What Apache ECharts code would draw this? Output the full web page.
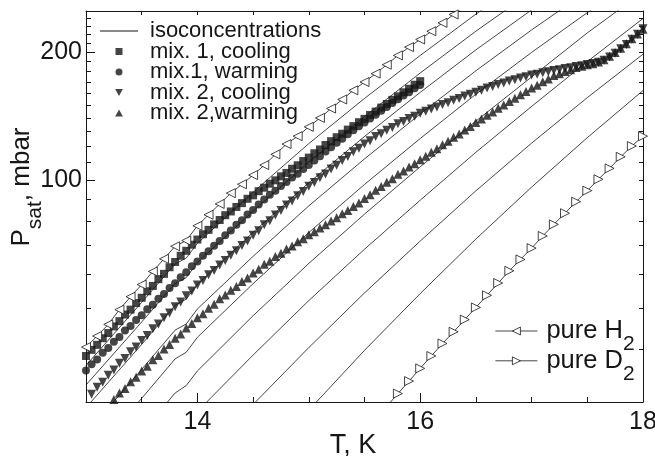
<!DOCTYPE html>
<html>
<head>
<meta charset="utf-8">
<script src="https://cdn.jsdelivr.net/npm/echarts@6/dist/echarts.min.js"></script>
<style>
  html, body { margin: 0; padding: 0; background: #fff; }
  #chart { width: 655px; height: 456px; }
</style>
</head>
<body>
<div id="chart"></div>
<script>
// Saturated vapour pressure of H2/D2 mixtures versus temperature (log pressure axis).

// Axis ticks and labels
const xLabelValues = [14, 16, 18];
const xMajorTicks = [14, 16];
const yLabelValues = [100, 200];
const yMajorTicks = [100, 200];
const yTickValues = [30, 40, 50, 60, 70, 80, 90, 100, 110, 120, 130, 140, 150, 160, 170, 180, 190, 200, 210, 220, 230, 240, 250];

// Pure components, [T (K), P (mbar)]
const h2Pure = [[13.0,40.4],[13.1,42.9],[13.2,45.7],[13.3,49.5],[13.4,53.1],[13.5,56.7],[13.6,60.9],[13.7,65.2],[13.8,69.8],[13.9,72.0],
  [14.0,78.0],[14.1,82.8],[14.2,87.8],[14.3,93.1],[14.4,97.7],[14.5,102.7],[14.6,108.4],[14.7,114.9],[14.8,121.5],[14.9,126.8],
  [15.0,133.4],[15.1,140.0],[15.2,147.3],[15.3,154.7],[15.4,162.6],[15.5,170.1],[15.6,178.0],[15.7,186.8],[15.8,196.5],[15.9,205.5],
  [16.0,214.2],[16.1,224.0],[16.2,234.4],[16.3,245.3],[16.4,256.0]];
const d2Pure = [[15.7,29.3],[15.8,31.4],[15.9,33.6],[16.0,36.0],[16.1,38.5],[16.2,41.2],[16.3,43.9],[16.4,46.9],[16.5,50.1],[16.6,53.5],
  [16.7,57.2],[16.8,61.1],[16.9,65.0],[17.0,69.1],[17.1,73.8],[17.2,78.6],[17.3,83.5],[17.4,88.9],[17.5,94.4],[17.6,100.4],
  [17.7,106.5],[17.8,113.4],[17.9,120.2],[18.0,126.8]];

// Isoconcentration lines
const iso1 = [[13.0,36.6],[13.5,51.5],[13.8,63.4],[13.9,65.5],[14.0,70.9],[14.5,93.6],[15.0,121.8],[15.5,155.6],[16.0,196.4],[16.5,245.8],[17.0,303.2]];
const iso2 = [[13.0,32.9],[13.5,46.3],[13.8,57.0],[13.9,58.9],[14.0,63.9],[14.5,84.4],[15.0,110.1],[15.5,141.1],[16.0,178.6],[16.5,224.1],[17.0,277.3]];
const iso3 = [[13.0,29.1],[13.5,41.0],[13.8,50.7],[13.9,52.4],[14.0,56.8],[14.5,75.3],[15.0,98.5],[15.5,126.6],[16.0,160.8],[16.5,202.5],[17.0,251.5],[17.5,308.8]];
const iso4 = [[13.0,25.3],[13.5,35.8],[13.8,44.3],[13.9,45.8],[14.0,49.7],[14.5,66.1],[15.0,86.9],[15.5,112.1],[16.0,143.0],[16.5,180.8],[17.0,225.6],[17.5,278.3]];
const iso5 = [[13.0,21.5],[13.5,30.6],[13.8,37.9],[13.9,39.3],[14.0,42.6],[14.5,57.0],[15.0,75.2],[15.5,97.6],[16.0,125.2],[16.5,159.2],[17.0,199.7],[17.5,247.8],[18.0,304.2]];
const iso6 = [[13.5,25.4],[13.8,31.5],[13.9,32.8],[14.0,35.5],[14.5,47.9],[15.0,63.6],[15.5,83.1],[16.0,107.4],[16.5,137.6],[17.0,174.8],[17.5,222.0],[18.0,277.0]];
const iso7 = [[13.5,20.1],[13.8,25.1],[13.9,26.2],[14.0,28.5],[14.5,38.7],[15.0,52.0],[15.5,68.7],[16.0,89.6],[16.5,116.2],[17.0,149.0],[17.5,190.0],[18.0,240.0]];
const iso8 = [[14.0,21.4],[14.5,29.6],[15.0,40.3],[15.5,54.2],[16.0,71.8],[16.5,94.3],[17.0,122.1],[17.5,156.3],[18.0,197.8]];
const iso9 = [[14.5,20.4],[15.0,28.7],[15.5,39.7],[16.0,54.0],[16.5,72.6],[17.0,96.2],[17.5,125.8],[18.0,162.4]];

// Mixture 1
const mix1Cooling = [[13.00,38.5],[13.05,39.8],[13.10,40.9],[13.15,42.4],[13.20,43.6],[13.25,45.2],[13.30,46.5],[13.35,48.2],[13.40,49.5],[13.45,51.3],
  [13.50,52.8],[13.55,54.7],[13.60,56.3],[13.65,58.4],[13.70,60.1],[13.75,62.3],[13.80,64.1],[13.85,66.3],[13.90,68.1],[13.95,70.4],
  [14.00,72.4],[14.05,74.5],[14.10,76.3],[14.15,78.6],[14.20,80.5],[14.25,82.6],[14.30,84.3],[14.35,86.4],[14.40,88.2],[14.45,90.3],
  [14.50,92.0],[14.55,94.1],[14.60,95.9],[14.65,98.0],[14.70,99.8],[14.75,102.0],[14.80,103.9],[14.85,106.3],[14.90,108.3],[14.95,110.8],
  [15.00,112.9],[15.05,115.6],[15.10,118.0],[15.15,120.9],[15.20,123.4],[15.25,126.1],[15.30,128.5],[15.35,131.4],[15.40,133.9],[15.45,136.8],
  [15.50,139.3],[15.55,142.3],[15.60,144.9],[15.65,148.1],[15.70,151.0],[15.75,154.4],[15.80,157.4],[15.85,160.9],[15.90,164.0],[15.95,167.6],[16.00,170.9]];
const mix1Warming = [[13.00,35.6],[13.05,36.8],[13.10,37.8],[13.15,39.2],[13.20,40.2],[13.25,41.6],[13.30,42.7],[13.35,44.2],[13.40,45.3],[13.45,46.8],
  [13.50,48.0],[13.55,49.6],[13.60,50.8],[13.65,52.5],[13.70,53.9],[13.75,55.7],[13.80,57.1],[13.85,59.0],[13.90,60.6],[13.95,62.6],
  [14.00,64.3],[14.05,66.3],[14.10,67.9],[14.15,70.0],[14.20,71.8],[14.25,74.1],[14.30,76.0],[14.35,78.4],[14.40,80.4],[14.45,82.9],
  [14.50,85.0],[14.55,87.6],[14.60,89.9],[14.65,92.3],[14.70,94.3],[14.75,96.8],[14.80,98.9],[14.85,101.4],[14.90,103.5],[14.95,106.1],
  [15.00,108.4],[15.05,111.2],[15.10,113.8],[15.15,116.7],[15.20,119.4],[15.25,122.4],[15.30,125.0],[15.35,128.1],[15.40,130.9],[15.45,133.9],
  [15.50,136.5],[15.55,139.6],[15.60,142.4],[15.65,145.6],[15.70,148.5],[15.75,151.9],[15.80,154.9],[15.85,158.1],[15.90,161.0],[15.95,164.4],[16.00,167.4]];

// Mixture 2
const mix2Cooling = [[13.05,31.3],[13.10,32.5],[13.15,33.4],[13.20,34.7],[13.25,35.7],[13.30,37.0],[13.35,38.0],[13.40,39.4],[13.45,40.4],[13.50,41.9],
  [13.55,43.0],[13.60,44.6],[13.65,45.8],[13.70,47.4],[13.75,48.6],[13.80,50.3],[13.85,51.6],[13.90,53.4],[13.95,54.8],[14.00,56.6],
  [14.05,58.0],[14.10,59.8],[14.15,61.2],[14.20,63.1],[14.25,64.6],[14.30,66.5],[14.35,68.1],[14.40,70.1],[14.45,71.8],[14.50,74.1],
  [14.55,75.9],[14.60,78.4],[14.65,80.2],[14.70,82.7],[14.75,84.7],[14.80,87.3],[14.85,89.2],[14.90,91.8],[14.95,93.9],[15.00,96.6],
  [15.05,98.6],[15.10,101.2],[15.15,103.3],[15.20,106.1],[15.25,108.3],[15.30,111.2],[15.35,113.6],[15.40,116.6],[15.45,118.7],[15.50,121.5],
  [15.55,123.7],[15.60,126.6],[15.65,128.5],[15.70,131.0],[15.75,133.0],[15.80,135.6],[15.85,137.4],[15.90,139.6],[15.95,141.3],[16.00,143.6],
  [16.05,145.1],[16.10,147.0],[16.15,148.5],[16.20,150.6],[16.25,152.0],[16.30,154.1],[16.35,155.6],[16.40,157.6],[16.45,159.1],[16.50,161.0],
  [16.55,162.6],[16.60,164.6],[16.65,166.0],[16.70,167.8],[16.75,169.3],[16.80,171.1],[16.85,172.3],[16.90,173.8],[16.95,175.0],[17.00,176.6],
  [17.05,177.5],[17.10,178.8],[17.15,179.8],[17.20,181.1],[17.25,181.9],[17.30,183.1],[17.35,183.9],[17.40,185.1],[17.45,185.9],[17.50,187.1],
  [17.55,188.0],[17.60,189.4],[17.65,191.3],[17.70,194.8],[17.75,198.9],[17.80,203.6],[17.85,208.4],[17.90,214.6],[17.95,220.3],[18.00,227.2]];
const mix2Warming = [[13.25,30.4],[13.30,31.5],[13.35,32.3],[13.40,33.5],[13.45,34.3],[13.50,35.5],[13.55,36.4],[13.60,37.7],[13.65,38.6],[13.70,40.0],
  [13.75,41.0],[13.80,42.4],[13.85,43.4],[13.90,44.8],[13.95,45.9],[14.00,47.4],[14.05,48.4],[14.10,49.9],[14.15,51.0],[14.20,52.5],
  [14.25,53.6],[14.30,55.0],[14.35,56.1],[14.40,57.7],[14.45,58.8],[14.50,60.4],[14.55,61.6],[14.60,63.3],[14.65,64.4],[14.70,66.0],
  [14.75,67.2],[14.80,68.8],[14.85,69.9],[14.90,71.5],[14.95,72.7],[15.00,74.3],[15.05,75.5],[15.10,77.1],[15.15,78.4],[15.20,80.1],
  [15.25,81.5],[15.30,83.3],[15.35,84.7],[15.40,86.6],[15.45,88.3],[15.50,90.5],[15.55,92.3],[15.60,94.6],[15.65,96.5],[15.70,98.8],
  [15.75,100.7],[15.80,103.1],[15.85,105.0],[15.90,107.3],[15.95,109.2],[16.00,111.6],[16.05,113.7],[16.10,116.2],[16.15,118.4],[16.20,121.1],
  [16.25,123.3],[16.30,126.0],[16.35,128.3],[16.40,131.1],[16.45,133.6],[16.50,136.5],[16.55,139.1],[16.60,142.1],[16.65,144.6],[16.70,147.5],
  [16.75,150.1],[16.80,153.1],[16.85,155.7],[16.90,158.8],[16.95,161.5],[17.00,164.6],[17.05,167.2],[17.10,170.3],[17.15,172.9],[17.20,176.1],
  [17.25,177.8],[17.30,180.1],[17.35,181.9],[17.40,184.1],[17.45,185.3],[17.50,186.8],[17.55,187.9],[17.60,189.6],[17.65,192.0],[17.70,195.6],
  [17.75,199.6],[17.80,204.3],[17.85,209.3],[17.90,215.1],[17.95,220.8],[18.00,226.4]];

const INK = '#161616';
const FONT = "'Liberation Sans', Arial, Helvetica, sans-serif";
const T_MIN = 13, T_MAX = 18, P_MIN = 30, P_MAX = 250;

// Marker shapes
const SQUARE = 'path://M0,0H10V10H0Z';
const TRI_UP = 'path://M5,0L10,9L0,9Z';
const TRI_DOWN = 'path://M0,0L10,0L5,9Z';
const TRI_LEFT = 'path://M10,0L0,5L10,10Z';
const TRI_RIGHT = 'path://M0,0L10,5L0,10Z';
const LINE_ICON = 'path://M0,0H38V1H0Z';

const isoLines = [iso1, iso2, iso3, iso4, iso5, iso6, iso7, iso8, iso9];

const series = [];
isoLines.forEach(function (d) {
  series.push({
    type: 'line', name: 'isoconcentrations', data: d, symbol: 'none',
    lineStyle: { color: INK, width: 0.8 }, itemStyle: { color: INK },
    clip: true, silent: true, z: 2
  });
});
series.push(
  { type: 'scatter', name: 'mix. 1, cooling', data: mix1Cooling, symbol: SQUARE, symbolSize: 8,
    itemStyle: { color: INK }, clip: true, z: 3 },
  { type: 'scatter', name: 'mix.1, warming', data: mix1Warming, symbol: 'circle', symbolSize: 8,
    itemStyle: { color: INK }, clip: true, z: 3 },
  { type: 'scatter', name: 'mix. 2, cooling', data: mix2Cooling, symbol: TRI_DOWN, symbolSize: 9,
    itemStyle: { color: INK }, clip: true, z: 3 },
  { type: 'scatter', name: 'mix. 2,warming', data: mix2Warming, symbol: TRI_UP, symbolSize: 9,
    itemStyle: { color: INK }, clip: true, z: 3 },
  { type: 'line', name: 'pure H2', data: h2Pure, symbol: TRI_LEFT, symbolSize: 9, showSymbol: true,
    itemStyle: { color: '#fff', borderColor: INK, borderWidth: 0.8 },
    lineStyle: { color: INK, width: 0.8 }, clip: true, z: 4 },
  { type: 'line', name: 'pure D2', data: d2Pure, symbol: TRI_RIGHT, symbolSize: 9, showSymbol: true,
    itemStyle: { color: '#fff', borderColor: INK, borderWidth: 0.8 },
    lineStyle: { color: INK, width: 0.8 }, clip: true, z: 4 }
);

const legendNames = { 'pure H2': '{m|pure H}{s|2}', 'pure D2': '{m|pure D}{s|2}' };

const chart = echarts.init(document.getElementById('chart'), null, { renderer: 'canvas' });
chart.setOption({
  animation: false,
  backgroundColor: '#fff',
  color: [INK],
  textStyle: { fontFamily: FONT, color: INK },
  grid: { left: 86, right: 12, top: 11, bottom: 54, containLabel: false, outerBoundsMode: 'none' },
  legend: [
    {
      orient: 'vertical', left: 100, top: 20, padding: 0,
      itemWidth: 38, itemHeight: 7, itemGap: -1.5, selectedMode: false,
      data: [
        { name: 'isoconcentrations', icon: LINE_ICON },
        'mix. 1, cooling', 'mix.1, warming', 'mix. 2, cooling', 'mix. 2,warming'
      ],
      itemStyle: { borderWidth: 0 },
      textStyle: { fontFamily: FONT, fontSize: 22, color: INK, padding: [0, 0, 0, 7] }
    },
    {
      orient: 'vertical', left: 495, top: 318, padding: 0,
      itemWidth: 42, itemHeight: 10, itemGap: -6.7, selectedMode: false,
      data: ['pure H2', 'pure D2'],
      formatter: function (name) { return legendNames[name]; },
      itemStyle: { color: '#fff', borderColor: INK, borderWidth: 0.8 },
      lineStyle: { color: INK, width: 0.8 },
      textStyle: {
        padding: [0, 0, 0, 4],
        rich: {
          m: { fontFamily: FONT, fontSize: 25.5, lineHeight: 27, color: INK },
          s: { fontFamily: FONT, fontSize: 21, height: 1, lineHeight: 1, verticalAlign: 'bottom', color: INK }
        }
      }
    }
  ],
  xAxis: [
    {
      type: 'value', min: T_MIN, max: T_MAX, interval: 0.5, position: 'bottom',
      axisLine: { show: true, onZero: false, lineStyle: { color: INK, width: 1 } },
      axisTick: { show: true, inside: true, length: 5, lineStyle: { color: INK, width: 1 } },
      axisLabel: { customValues: xLabelValues, fontFamily: FONT, fontSize: 25, color: INK, margin: 8 },
      splitLine: { show: false }
    },
    {
      type: 'value', min: T_MIN, max: T_MAX, position: 'bottom',
      axisLine: { show: false },
      axisTick: { show: true, inside: true, length: 9, customValues: xMajorTicks, lineStyle: { color: INK, width: 1 } },
      axisLabel: { show: false }, splitLine: { show: false }
    },
    {
      type: 'value', min: T_MIN, max: T_MAX, interval: 0.5, position: 'top',
      axisLine: { show: true, onZero: false, lineStyle: { color: INK, width: 1 } },
      axisTick: { show: true, inside: true, length: 4, lineStyle: { color: INK, width: 1 } },
      axisLabel: { show: false }, splitLine: { show: false }
    }
  ],
  yAxis: [
    {
      type: 'log', logBase: 10, min: P_MIN, max: P_MAX, position: 'left',
      axisLine: { show: true, onZero: false, lineStyle: { color: INK, width: 1 } },
      axisTick: { show: true, inside: true, length: 5, customValues: yTickValues, lineStyle: { color: INK, width: 1 } },
      axisLabel: { customValues: yLabelValues, fontFamily: FONT, fontSize: 25, color: INK, margin: 4 },
      splitLine: { show: false }, minorTick: { show: false }
    },
    {
      type: 'log', logBase: 10, min: P_MIN, max: P_MAX, position: 'left',
      axisLine: { show: false },
      axisTick: { show: true, inside: true, length: 9, customValues: yMajorTicks, lineStyle: { color: INK, width: 1 } },
      axisLabel: { show: false }, splitLine: { show: false }
    },
    {
      type: 'log', logBase: 10, min: P_MIN, max: P_MAX, position: 'right',
      axisLine: { show: true, onZero: false, lineStyle: { color: INK, width: 1 } },
      axisTick: { show: true, inside: true, length: 4, customValues: yTickValues, lineStyle: { color: INK, width: 1 } },
      axisLabel: { show: false }, splitLine: { show: false }
    }
  ],
  graphic: [
    {
      type: 'text', x: 22, y: 187, rotation: Math.PI / 2, silent: true,
      style: {
        text: '{m|P}{s|sat}{m|, mbar}', align: 'center', verticalAlign: 'middle',
        rich: {
          m: { fontFamily: FONT, fontSize: 26, lineHeight: 30, fill: INK },
          s: { fontFamily: FONT, fontSize: 21, height: 4, lineHeight: 4, verticalAlign: 'bottom', fill: INK }
        }
      }
    },
    {
      type: 'text', x: 353, y: 446, silent: true,
      style: { text: 'T, K', fontFamily: FONT, fontSize: 27, fill: INK, align: 'center', verticalAlign: 'middle' }
    }
  ],
  series: series
});
</script>
</body>
</html>
